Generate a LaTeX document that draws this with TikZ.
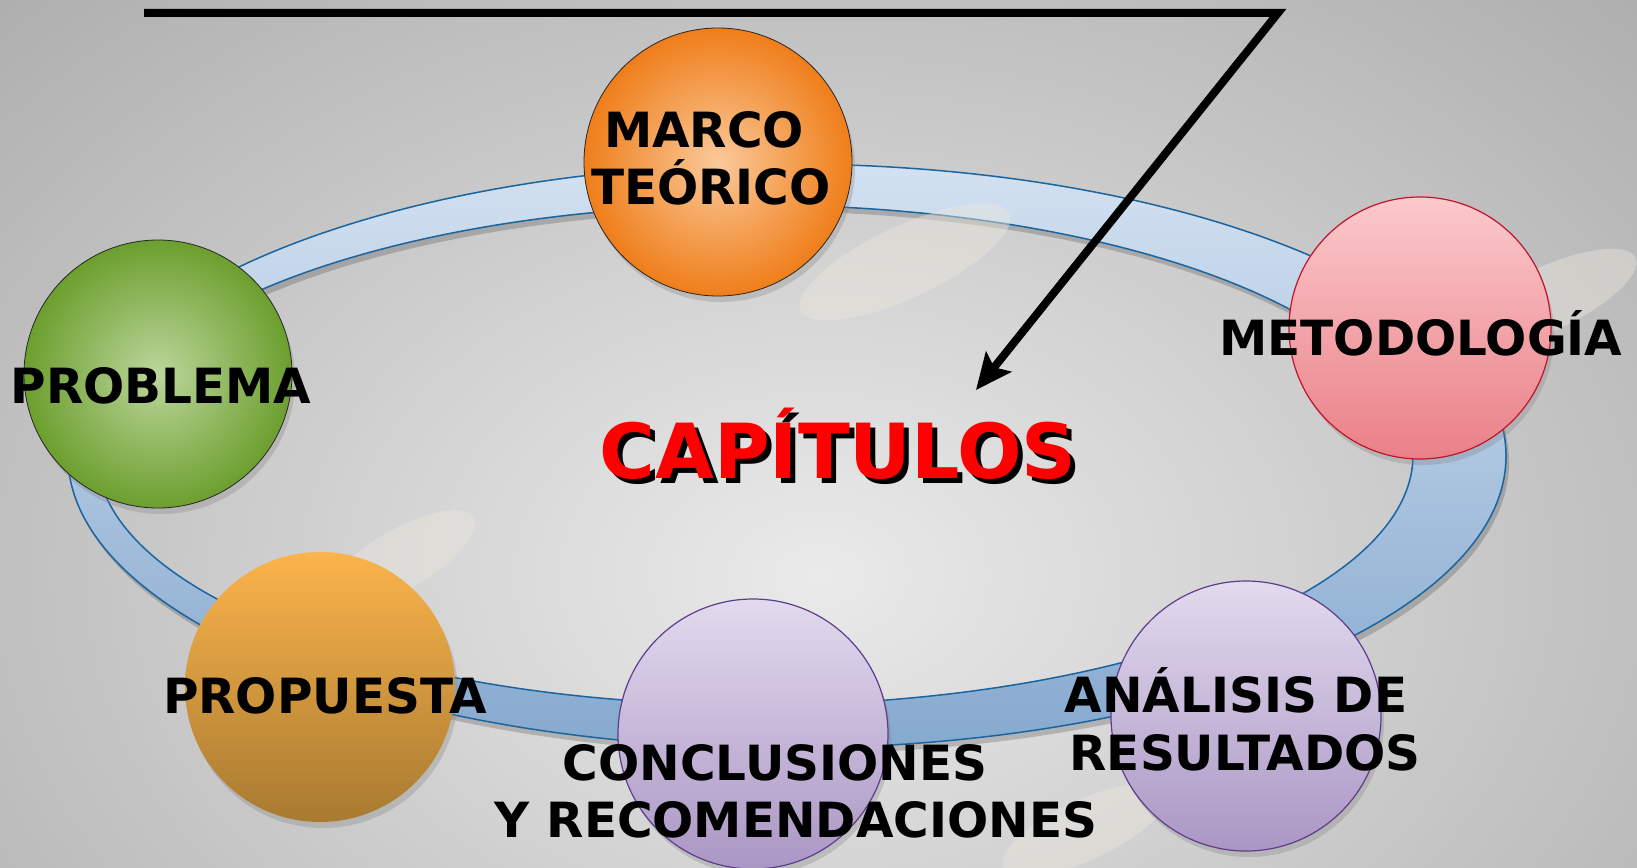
\documentclass[tikz,border=0pt]{standalone}
\usepackage{fontspec}
\setmainfont{DejaVu Sans}
\usetikzlibrary{arrows.meta,shadows}
\definecolor{bgin}{HTML}{EAEAEA}
\definecolor{bgout}{HTML}{AEAEAE}
\definecolor{ringtop}{HTML}{D3E1F1}
\definecolor{ringbot}{HTML}{86A9CF}
\definecolor{ringedge}{HTML}{1A64A0}
\definecolor{ghost}{HTML}{E9E6DC}
\definecolor{orin}{HTML}{FAC99A}
\definecolor{orout}{HTML}{EF7E1A}
\definecolor{grin}{HTML}{BCD69C}
\definecolor{grout}{HTML}{6C9F2E}
\definecolor{pktop}{HTML}{FBC9CC}
\definecolor{pkbot}{HTML}{EA8087}
\definecolor{pkedge}{HTML}{C0142A}
\definecolor{potop}{HTML}{FBB44C}
\definecolor{pobot}{HTML}{A87A30}
\definecolor{lvtop}{HTML}{E2DAEE}
\definecolor{lvbot}{HTML}{AA96C4}
\definecolor{lvedge}{HTML}{5E3C8C}
\definecolor{capred}{HTML}{FF0000}
\begin{document}
\begin{tikzpicture}[x=1pt,y=-1pt,
  ballbase/.style={circle, inner sep=0pt, minimum size=268pt,
    drop shadow={opacity=0.3, shadow xshift=3pt, shadow yshift=-6pt}},
  orball/.style={ballbase, inner color=orin, outer color=orout, draw=black!85, line width=0.8pt},
  grball/.style={ballbase, inner color=grin, outer color=grout, draw=black!85, line width=0.8pt},
  pkball/.style={ballbase, minimum size=262pt, top color=pktop, bottom color=pkbot, draw=pkedge, line width=1.2pt},
  poball/.style={ballbase, minimum size=270pt, top color=potop, bottom color=pobot},
  lvball/.style={ballbase, minimum size=270pt, top color=lvtop, bottom color=lvbot, draw=lvedge, line width=1.2pt},
  lbl/.style={font=\fontsize{48.5}{57}\selectfont\bfseries, text=black, inner sep=0pt, anchor=base},
  captxt/.style={font=\fontsize{76}{90}\selectfont\bfseries, inner sep=0pt, anchor=base},
  ghostshape/.style={fill=ghost, opacity=0.45},
  pointer/.style={line width=8pt, line join=miter, -{Stealth[length=36pt, width=32pt, inset=7pt]}}
]
\useasboundingbox (0,0) rectangle (1637,867);
\clip (0,0) rectangle (1637,867);
% background
\shade[inner color=bgin, outer color=bgout] (-350,-250) rectangle (1987,1400);

% ring shadow and ring
\path[even odd rule, fill=black, opacity=0.18, shift={(3,6)}]
  (787,456) ellipse [x radius=719pt, y radius=292pt]
  (755,455) ellipse [x radius=658pt, y radius=250pt];
\path[even odd rule, top color=ringtop, bottom color=ringbot, draw=ringedge, line width=1.5pt]
  (787,456) ellipse [x radius=719pt, y radius=292pt]
  (755,455) ellipse [x radius=658pt, y radius=250pt];

% faint ghost shapes
\fill[ghostshape, rotate around={25:(905,262)}] (905,262) ellipse [x radius=115pt, y radius=36pt];
\fill[ghostshape, rotate around={25:(1545,300)}] (1545,300) ellipse [x radius=100pt, y radius=32pt];
\fill[ghostshape, rotate around={30:(400,560)}] (400,560) ellipse [x radius=85pt, y radius=30pt];
\fill[ghostshape, rotate around={25:(1085,830)}] (1085,830) ellipse [x radius=90pt, y radius=30pt];

% circles
\node[orball] (marco) at (718,162) {};
\node[grball] (problema) at (158,374) {};
\node[pkball] (metodo) at (1420,328) {};
\node[poball] (propuesta) at (320,687) {};
\node[lvball] (conclu) at (753,734) {};
\node[lvball] (analisis) at (1246,716) {};

% pointer line
\coordinate (pstart) at (144,13);
\coordinate (pcorner) at (1278,13);
\coordinate (ptip) at (976,390);
\draw[pointer] (pstart) -- (pcorner) -- (ptip);

% labels
\node[lbl] (tMarcoA) at (704,147) {MARCO};
\node[lbl] (tMarcoB) at (711,204) {TEÓRICO};
\node[lbl] (tProb) at (161,403) {PROBLEMA};
\node[lbl] (tMet) at (1421,355) {METODOLOGÍA};
\node[lbl] (tProp) at (325,713) {PROPUESTA};
\node[lbl] (tConA) at (775,780) {CONCLUSIONES};
\node[lbl] (tConB) at (796,837) {Y RECOMENDACIONES};
\node[lbl] (tAnaA) at (1236,712) {ANÁLISIS DE};
\node[lbl] (tAnaB) at (1245,770) {RESULTADOS};

% title with shadow
\node[captxt, text=black] (capShadow) at (843,483) {CAPÍTULOS};
\node[captxt, text=capred] (capTitle) at (838,478) {CAPÍTULOS};
\end{tikzpicture}
\end{document}
